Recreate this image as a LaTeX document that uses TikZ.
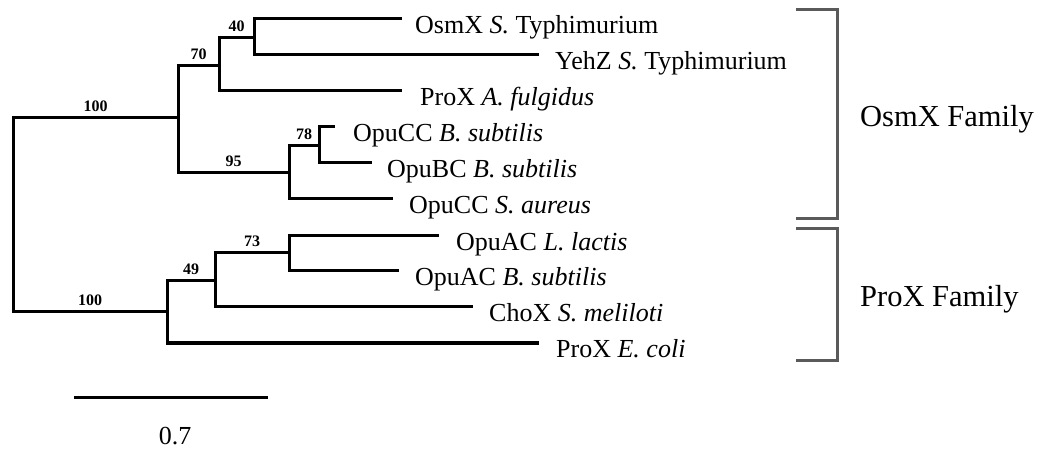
\documentclass[tikz,border=0pt]{standalone}
\usepackage{fontspec}
\setmainfont{Liberation Serif}
\definecolor{brk}{HTML}{5A5A5A}
\begin{document}
\begin{tikzpicture}[x=1pt,y=-1pt,
  branch/.style={line width=3pt,line join=miter,line cap=rect,black},
  boot/.style={font=\fontsize{16}{18}\selectfont\bfseries,anchor=base,yshift=6pt,inner sep=0pt},
  taxon/.style={font=\fontsize{26}{30}\selectfont,anchor=base west,inner sep=0pt},
  family/.style={font=\fontsize{30.5}{34}\selectfont,anchor=base west,inner sep=0pt},
  bracket/.style={line width=3pt,brk,line join=miter}]
\useasboundingbox (0,0) rectangle (1037,449);

% internal nodes (x = depth, y = height of the incoming branch)
\coordinate (root) at (13,215);
\coordinate (nA) at (178,118);
\coordinate (n70) at (219,66);
\coordinate (n40) at (254,38);
\coordinate (n95) at (289,173);
\coordinate (n78) at (319,146);
\coordinate (nB) at (167,312);
\coordinate (n49) at (215,281);
\coordinate (n73) at (289,253);

% leaf tips
\coordinate (t1) at (400,19);
\coordinate (t2) at (537,55);
\coordinate (t3) at (400,91);
\coordinate (t4) at (333,127);
\coordinate (t5) at (370,163);
\coordinate (t6) at (391,199);
\coordinate (t7) at (437,236);
\coordinate (t8) at (397,271);
\coordinate (t9) at (471,307);
\coordinate (t10) at (537,343);

% branches with bootstrap values
\draw[branch] (root) |- node[boot,pos=0.75] {100} (nA);
\draw[branch] (root) |- node[boot,pos=0.75] {100} (nB);
\draw[branch] (nA) |- node[boot,pos=0.75] {70} (n70);
\draw[branch] (nA) |- node[boot,pos=0.75] {95} (n95);
\draw[branch] (n70) |- node[boot,pos=0.75] {40} (n40);
\draw[branch] (n95) |- node[boot,pos=0.75] {78} (n78);
\draw[branch] (nB) |- node[boot,pos=0.75] {49} (n49);
\draw[branch] (n49) |- node[boot,pos=0.75] {73} (n73);

% terminal branches
\draw[branch] (n40) |- (t1);
\draw[branch] (n40) |- (t2);
\draw[branch] (n70) |- (t3);
\draw[branch] (n78) |- (t4);
\draw[branch] (n78) |- (t5);
\draw[branch] (n95) |- (t6);
\draw[branch] (n73) |- (t7);
\draw[branch] (n73) |- (t8);
\draw[branch] (n49) |- (t9);
\draw[branch] (nB) |- (t10);

% taxon labels
\node[taxon] (l1) at (415,33.5) {OsmX \textit{S.} Typhimurium};
\node[taxon] (l2) at (555,69.5) {YehZ \textit{S.} Typhimurium};
\node[taxon] (l3) at (420,105.5) {ProX \textit{A. fulgidus}};
\node[taxon] (l4) at (353,141.5) {OpuCC \textit{B. subtilis}};
\node[taxon] (l5) at (387,177.5) {OpuBC \textit{B. subtilis}};
\node[taxon] (l6) at (409,213.5) {OpuCC \textit{S. aureus}};
\node[taxon] (l7) at (456,250.5) {OpuAC \textit{L. lactis}};
\node[taxon] (l8) at (415,285.5) {OpuAC \textit{B. subtilis}};
\node[taxon] (l9) at (489,321.5) {ChoX \textit{S. meliloti}};
\node[taxon] (l10) at (556,357.5) {ProX \textit{E. coli}};

% family brackets
\draw[bracket] (796,10) -- (837,10) -- (837,219) -- (796,219);
\draw[bracket] (796,229) -- (837,229) -- (837,360) -- (796,360);
\node[family] (fam1) at (860,127) {OsmX Family};
\node[family] (fam2) at (860,307) {ProX Family};

% scale bar
\coordinate (s0) at (74,397);
\coordinate (s1) at (268,397);
\draw[line width=3pt] (s0) -- (s1);
\node[font=\fontsize{26}{30}\selectfont,anchor=base,inner sep=0pt] (scale) at (175,444) {0.7};
\end{tikzpicture}
\end{document}
